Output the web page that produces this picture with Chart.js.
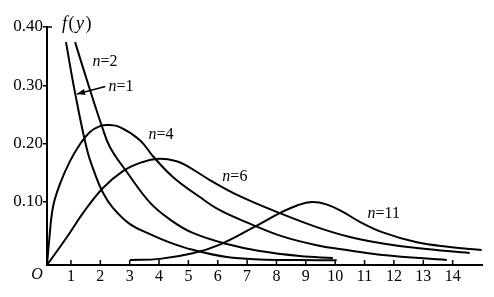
<!DOCTYPE html>
<html>
<head>
<meta charset="utf-8">
<script src="https://cdn.jsdelivr.net/npm/chart.js@4.4.1/dist/chart.umd.min.js"></script>
<style>
    html, body { margin: 0; padding: 0; background: #fff; }
    #chart { display: block; }
</style>
</head>
<body>
<canvas id="chart" width="494" height="297"></canvas>
<script>
// axes
const xTicks = [1, 2, 3, 4, 5, 6, 7, 8, 9, 10, 11, 12, 13, 14];
const yTicks = [0.1, 0.2, 0.3, 0.4];

// curves
const n1X = [0.83, 1.14, 1.55, 1.82, 2.09, 2.43, 3.01, 3.69, 4.4, 5.15, 6.31, 7.43, 8.8, 10.05];
const n1Y = [0.374, 0.287, 0.189, 0.148, 0.116, 0.090, 0.062, 0.045, 0.030, 0.018, 0.0057, 0.0015, 0.0005, 0.0];

const n2X = [1.14, 1.65, 2.06, 2.33, 2.91, 3.69, 4.4, 5.15, 6.31, 7.43, 8.80, 9.92];
const n2Y = [0.374, 0.292, 0.229, 0.194, 0.151, 0.099, 0.069, 0.047, 0.028, 0.016, 0.0074, 0.004];

const n4X = [0.184, 0.25, 0.388, 0.626, 0.967, 1.307, 1.647, 1.988, 2.26, 2.668, 3.35, 3.8, 4.47, 5.39, 6.07, 7.09, 8.2, 9.37, 10.5, 11.62, 13.8];
const n4Y = [-0.008, 0.03, 0.0915, 0.131, 0.170, 0.199, 0.220, 0.230, 0.232, 0.2285, 0.206, 0.178, 0.143, 0.1085, 0.086, 0.063, 0.041, 0.026, 0.017, 0.009, 0.0005];

const n6X = [0.184, 0.865, 1.409, 2.09, 2.77, 3.4, 4.0, 4.6, 4.95, 5.73, 6.75, 8.11, 9.37, 10.5, 11.62, 12.78, 14.58];
const n6Y = [-0.008, 0.040, 0.081, 0.124, 0.153, 0.168, 0.174, 0.170, 0.162, 0.1377, 0.110, 0.081, 0.057, 0.040, 0.029, 0.021, 0.0125];

const n11X = [3.01, 4.03, 5.15, 6.07, 7.2, 8.11, 8.7, 9.2, 9.7, 10.26, 10.84, 11.62, 12.78, 13.9, 14.99];
const n11Y = [0.0005, 0.0025, 0.012, 0.027, 0.056, 0.081, 0.094, 0.100, 0.096, 0.083, 0.066, 0.048, 0.031, 0.023, 0.0177];

// curve labels (data coordinates)
const curveLabels = ['n=2', 'n=1', 'n=4', 'n=6', 'n=11'];
const labelX = [2.158, 2.703, 4.064, 6.583, 11.655];
const labelY = [0.340, 0.297, 0.2148, 0.1428, 0.0794];

// arrow from "n=1" to its curve
const arrowX = [2.17, 1.205];
const arrowY = [0.298, 0.285];

const serif = '"Liberation Serif", "DejaVu Serif", serif';

function points(xs, ys) {
    return xs.map((x, i) => ({ x: x, y: ys[i] }));
}

function curve(xs, ys) {
    return {
        data: points(xs, ys),
        borderColor: '#000',
        borderWidth: 2,
        pointRadius: 0,
        fill: false,
        tension: 0.4,
        clip: false
    };
}

function drawParts(ctx, parts, x, y, size, gap) {
    parts.forEach(([txt, italic]) => {
        ctx.font = (italic ? 'italic ' : '') + size + 'px ' + serif;
        ctx.fillText(txt, x, y);
        x += ctx.measureText(txt).width + gap;
    });
}

function partsWidth(ctx, parts, size, gap) {
    let w = 0;
    parts.forEach(([txt, italic]) => {
        ctx.font = (italic ? 'italic ' : '') + size + 'px ' + serif;
        w += ctx.measureText(txt).width + gap;
    });
    return w - gap;
}

const annotations = {
    id: 'annotations',
    afterDraw(chart) {
        const ctx = chart.ctx;
        const xs = chart.scales.x;
        const ys = chart.scales.y;
        const bottom = chart.chartArea.bottom;

        ctx.save();
        ctx.strokeStyle = '#000';
        ctx.fillStyle = '#000';

        // x tick marks point up into the plot
        ctx.lineWidth = 1.5;
        xTicks.forEach(v => {
            const px = xs.getPixelForValue(v);
            ctx.beginPath();
            ctx.moveTo(px, bottom);
            ctx.lineTo(px, bottom - 5);
            ctx.stroke();
        });

        // top tick at 0.40 turns inward
        const topY = ys.getPixelForValue(0.4);
        ctx.beginPath();
        ctx.moveTo(chart.chartArea.left, topY);
        ctx.lineTo(chart.chartArea.left + 5, topY);
        ctx.stroke();

        ctx.textBaseline = 'middle';

        // n=... labels
        curveLabels.forEach((lab, i) => {
            const parts = [['n', true], [lab.slice(1), false]];
            const w = partsWidth(ctx, parts, 16, 0);
            const cx = xs.getPixelForValue(labelX[i]);
            const cy = ys.getPixelForValue(labelY[i]);
            drawParts(ctx, parts, cx - w / 2, cy, 16, 0);
        });

        // arrow
        const ax0 = xs.getPixelForValue(arrowX[0]);
        const ay0 = ys.getPixelForValue(arrowY[0]);
        const ax1 = xs.getPixelForValue(arrowX[1]);
        const ay1 = ys.getPixelForValue(arrowY[1]);
        ctx.lineWidth = 1.5;
        ctx.beginPath();
        ctx.moveTo(ax0, ay0);
        ctx.lineTo(ax1, ay1);
        ctx.stroke();
        const ang = Math.atan2(ay1 - ay0, ax1 - ax0);
        ctx.beginPath();
        ctx.moveTo(ax1, ay1);
        ctx.lineTo(ax1 - 8 * Math.cos(ang) + 3 * Math.sin(ang), ay1 - 8 * Math.sin(ang) - 3 * Math.cos(ang));
        ctx.lineTo(ax1 - 8 * Math.cos(ang) - 3 * Math.sin(ang), ay1 - 8 * Math.sin(ang) + 3 * Math.cos(ang));
        ctx.closePath();
        ctx.fill();

        // f(y)
        ctx.textAlign = 'left';
        drawParts(ctx, [['f', true], ['(', false], ['y', true], [')', false]],
            xs.getPixelForValue(0.694), ys.getPixelForValue(0.405), 18, 1.5);

        // origin
        ctx.font = 'italic 16px ' + serif;
        ctx.textAlign = 'center';
        ctx.fillText('O', xs.getPixelForValue(-0.157), ys.getPixelForValue(-0.025));

        ctx.restore();
    }
};

new Chart(document.getElementById('chart'), {
    type: 'line',
    data: {
        datasets: [
            curve(n1X, n1Y),
            curve(n2X, n2Y),
            curve(n4X, n4Y),
            curve(n6X, n6Y),
            curve(n11X, n11Y)
        ]
    },
    options: {
        responsive: false,
        animation: false,
        devicePixelRatio: 1,
        layout: { padding: { top: 27, right: 12, left: 0, bottom: 0 } },
        plugins: {
            legend: { display: false },
            tooltip: { enabled: false }
        },
        scales: {
            x: {
                type: 'linear',
                min: 0.184,
                max: 15,
                afterBuildTicks: s => { s.ticks = xTicks.map(v => ({ value: v })); },
                afterFit: s => { s.height = 32; },
                grid: { display: false, drawTicks: false },
                border: { display: true, color: '#000', width: 2 },
                ticks: {
                    color: '#000',
                    font: { family: serif, size: 16 },
                    padding: 2,
                    maxRotation: 0,
                    autoSkip: false,
                    callback: v => String(v)
                }
            },
            y: {
                min: -0.008,
                max: 0.4,
                afterBuildTicks: s => { s.ticks = yTicks.map(v => ({ value: v })); },
                afterFit: s => { s.width = 47; },
                grid: { display: true, drawOnChartArea: false, drawTicks: true, tickLength: 4, color: '#000', lineWidth: 1.5 },
                border: { display: true, color: '#000', width: 2 },
                ticks: {
                    color: '#000',
                    font: { family: serif, size: 17 },
                    padding: 0,
                    callback: v => v.toFixed(2)
                }
            }
        }
    },
    plugins: [annotations]
});
</script>
</body>
</html>
